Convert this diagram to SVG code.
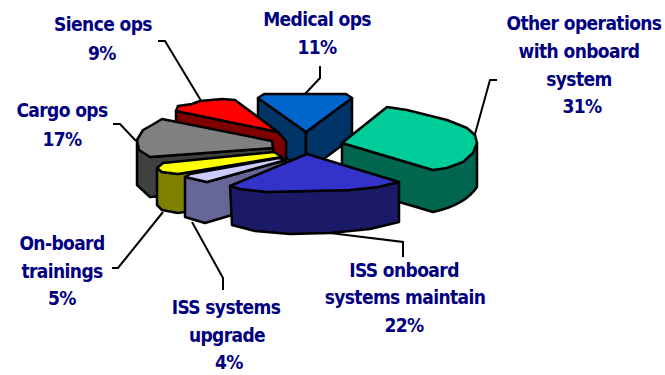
<svg xmlns="http://www.w3.org/2000/svg" width="665" height="375" viewBox="0 0 665 375">
<style>
.s{stroke:#000;stroke-width:2.5;stroke-linejoin:round}
.l{fill:none;stroke:#000;stroke-width:2}
.t{font-family:"DejaVu Sans Condensed","DejaVu Sans","Liberation Sans",sans-serif;font-stretch:condensed;font-weight:bold;font-size:19px;fill:#000080;text-anchor:middle;letter-spacing:-0.6px}
</style>
<rect width="665" height="375" fill="#fff"/>
<g id="connectors">
<polyline class="l" points="158,41 165,41 203,104"/>
<polyline class="l" points="320,66 320,78 304,95"/>
<polyline class="l" points="497,80 490,80 475,134"/>
<polyline class="l" points="113,124 120,124 136,141"/>
<polyline class="l" points="330,233 403,242 403,257"/>
<polyline class="l" points="112,268 118,268 163,212"/>
<polyline class="l" points="192,222 223,278 223,290"/>
</g>
<g id="medical-ops">
<polygon class="s" fill="#003366" points="258,98 306,132 306,172 258,138"/>
<polygon class="s" fill="#003366" points="306,132 352,98 352,138 306,172"/>
<path class="s" fill="#0066CC" d="M258,98 L264,94 L346,94 L352,98 L306,132 Z"/>
</g>
<g id="sience-ops">
<path class="s" fill="#800000" d="M176,111 L278,132 L286,141 L286,181 L176,151 Z"/>
<path class="s" fill="#FF0000" d="M176,111 L178,106 L192,104 L200,101 L222,99 L235,100 L278,132 Z"/>
</g>
<g id="cargo-ops">
<path class="s" fill="#404040" d="M137,142 L150,157 L273,148 L273,188 L150,197 L137,185 Z"/>
<path class="s" fill="#808080" d="M150,157 L139,150 L137,140 L143,130 L152,125 L162,119 L272,141 L273,148 Z"/>
</g>
<g id="other-operations">
<path class="s" fill="#006650" d="M342,143 L433,170 Q463,162 477,143 L477,187 Q465,205 433,212 L342,185 Z"/>
<path class="s" fill="#00CC99" d="M342,143 L387,107 L407,110 L427,115 L447,120 L467,128 L475,135 L477,143 L473,153 L463,162 L447,168 L433,170 Z"/>
</g>
<g id="on-board-trainings">
<path class="s" fill="#808000" d="M157,168 L162,172 L178,174 L282,157 L282,197 L178,213 L162,210 L157,205 Z"/>
<path class="s" fill="#FFFF00" d="M157,168 L163,163 L274,152 L282,157 L178,174 L162,172 Z"/>
</g>
<g id="iss-systems-upgrade">
<path class="s" fill="#666699" d="M185,177 L207,182 L286,160 L286,199 L205,223 L185,217 Z"/>
<path class="s" fill="#CCCCFF" d="M185,177 L190,174 L279,158 L286,160 L207,182 Z"/>
</g>
<g id="iss-onboard-maintain">
<path class="s" fill="#1A1A66" d="M230,186 L240,189 L267,192 L350,190 L378,187 L399,182 L399,222 L370,229 L330,233 L290,234 L255,231 L232,225 Z"/>
<path class="s" fill="#3333CC" d="M307,154 L399,182 L378,187 L350,190 L267,192 L240,189 L230,186 Z"/>
</g>
<g id="labels">
<text class="t" x="103" y="31">Sience ops</text>
<text class="t" x="102" y="60">9%</text>
<text class="t" x="317" y="26">Medical ops</text>
<text class="t" x="317" y="54">11%</text>
<text class="t" x="584" y="30">Other operations</text>
<text class="t" x="579" y="58">with onboard</text>
<text class="t" x="579" y="86">system</text>
<text class="t" x="582" y="113">31%</text>
<text class="t" x="62" y="117">Cargo ops</text>
<text class="t" x="62" y="146">17%</text>
<text class="t" x="62" y="250">On-board</text>
<text class="t" x="62" y="278">trainings</text>
<text class="t" x="62" y="305">5%</text>
<text class="t" x="226" y="314">ISS systems</text>
<text class="t" x="227" y="342">upgrade</text>
<text class="t" x="229" y="369">4%</text>
<text class="t" x="404" y="277">ISS onboard</text>
<text class="t" x="405" y="304">systems maintain</text>
<text class="t" x="404" y="332">22%</text>
</g>
</svg>
